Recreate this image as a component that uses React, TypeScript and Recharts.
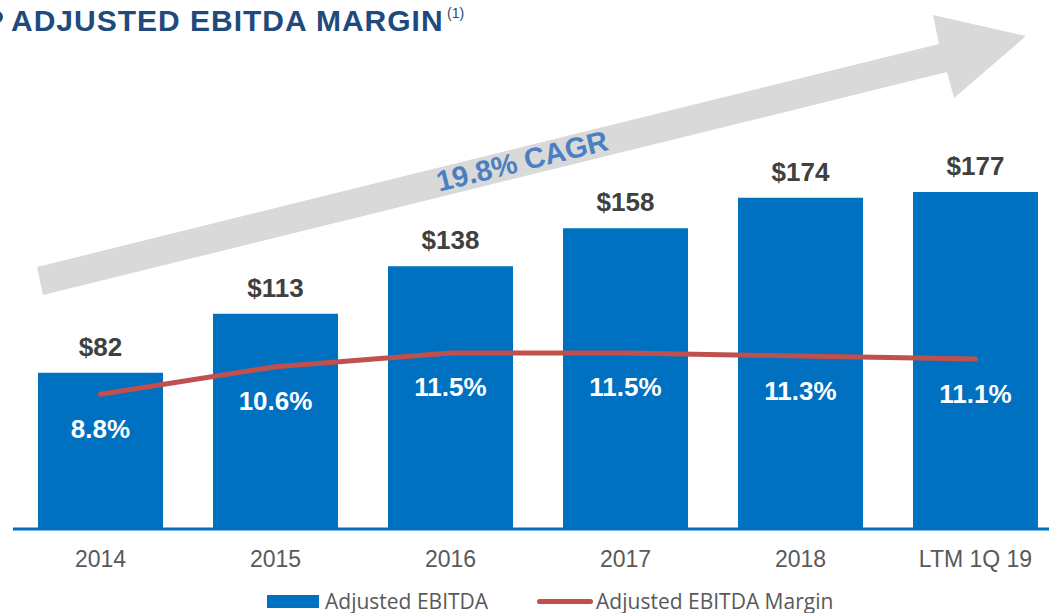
import React from "react";
import {
  ComposedChart,
  Bar,
  Line,
  XAxis,
  YAxis,
  LabelList,
  Legend,
} from "recharts";

const years = ["2014", "2015", "2016", "2017", "2018", "LTM 1Q 19"];
const ebitda = [82, 113, 138, 158, 174, 177];
const ebitdaMargin = [8.8, 10.6, 11.5, 11.5, 11.3, 11.1];

const chartData = years.map((year, i) => ({
  year,
  ebitda: ebitda[i],
  margin: ebitdaMargin[i],
}));

const BLUE = "#0070c0";
const RED = "#c0504d";
const ARIAL = "'Liberation Sans', Arial, sans-serif";

function LegendContent() {
  return (
    <div
      style={{
        display: "flex",
        alignItems: "center",
        height: 24,
        paddingLeft: 267,
        fontFamily: "'Open Sans', sans-serif",
        fontSize: 21,
        lineHeight: "24px",
        color: "#595959",
        whiteSpace: "nowrap",
      }}
    >
      <span style={{ width: 52, height: 13, background: BLUE, marginRight: 6 }} />
      <span>Adjusted EBITDA</span>
      <span
        style={{
          width: 56,
          height: 5,
          borderRadius: 3,
          background: RED,
          marginLeft: 49,
          marginRight: 3,
        }}
      />
      <span>Adjusted EBITDA Margin</span>
    </div>
  );
}

export default function App() {
  return (
    <div
      style={{
        position: "fixed",
        top: 0,
        left: 0,
        width: 1049,
        height: 613,
        overflow: "hidden",
        background: "#fff",
      }}
    >
      {/* title + growth arrow, drawn behind the chart */}
      <svg
        width={1049}
        height={613}
        style={{ position: "absolute", top: 0, left: 0 }}
      >
        <circle cx={-3} cy={17} r={6} fill="#1f4a7e" />
        <text
          x={11}
          y={31}
          fontFamily={ARIAL}
          fontWeight="bold"
          fontSize={30}
          letterSpacing={1}
          fill="#1f4a7e"
        >
          ADJUSTED EBITDA MARGIN
        </text>
        <text x={447} y={18} fontFamily={ARIAL} fontSize={14} fill="#1f4a7e">
          (1)
        </text>
        <polygon
          points="37,267 939,44 933,15 1026,36 954,98 947,72 43,295"
          fill="#d9d9d9"
        />
        <text
          x={522}
          y={161}
          transform="rotate(-13.9 522 161)"
          textAnchor="middle"
          dominantBaseline="central"
          fontFamily={ARIAL}
          fontWeight="bold"
          fontSize={29}
          fill="#4a7fc1"
        >
          19.8% CAGR
        </text>
      </svg>

      <div style={{ position: "absolute", top: 0, left: 0 }}>
        <ComposedChart
          width={1070}
          height={613}
          data={chartData}
          margin={{ top: 53, right: 7, left: 13, bottom: 0 }}
        >
          <XAxis
            dataKey="year"
            interval={0}
            height={60}
            tickLine={false}
            tickMargin={16}
            axisLine={{ stroke: BLUE, strokeWidth: 3 }}
            tick={{ fontSize: 23, fill: "#595959", fontFamily: ARIAL }}
          />
          <YAxis yAxisId="left" hide domain={[0, 250]} />
          <YAxis yAxisId="right" hide domain={[0, 31.1]} />
          <Legend
            verticalAlign="bottom"
            content={() => <LegendContent />}
            wrapperStyle={{ left: 0, bottom: 0, width: 1049, height: 24 }}
          />
          <Bar
            yAxisId="left"
            dataKey="ebitda"
            fill={BLUE}
            barSize={125}
            isAnimationActive={false}
          >
            <LabelList
              dataKey="ebitda"
              position="top"
              offset={17}
              formatter={(v: number) => `$${v}`}
              fill="#404040"
              fontSize={26}
              fontWeight="bold"
              fontFamily={ARIAL}
            />
          </Bar>
          <Line
            yAxisId="right"
            type="linear"
            dataKey="margin"
            stroke={RED}
            strokeWidth={5}
            strokeLinecap="round"
            dot={false}
            activeDot={false}
            isAnimationActive={false}
          >
            <LabelList
              dataKey="margin"
              position="bottom"
              offset={25}
              formatter={(v: number) => `${v.toFixed(1)}%`}
              fill="#ffffff"
              stroke="none"
              fontSize={26}
              fontWeight="bold"
              fontFamily={ARIAL}
            />
          </Line>
        </ComposedChart>
      </div>
    </div>
  );
}
